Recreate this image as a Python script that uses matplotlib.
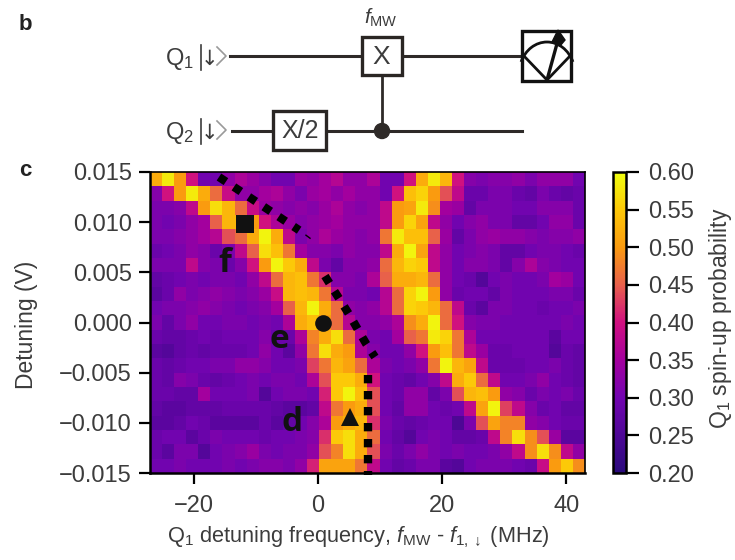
import numpy as np
import matplotlib
matplotlib.use("Agg")
import matplotlib.pyplot as plt
from matplotlib.colors import LinearSegmentedColormap
from matplotlib.patches import Rectangle, Circle, Arc, Polygon

plt.rcParams["font.family"] = ["Liberation Sans", "DejaVu Sans"]
plt.rcParams["mathtext.fontset"] = "custom"
plt.rcParams["mathtext.rm"] = "Liberation Sans"
plt.rcParams["mathtext.it"] = "Liberation Sans:italic"
plt.rcParams["mathtext.default"] = "regular"

# spin-up probability, top row first
probability = [
    [.52,.58,.50,.40,.30,.30, .33,.36,.34,.32,.30,.30, .34,.33,.35,.37,.33,.33, .36,.30,.30,.40,.52,.58, .53,.40,.32,.31,.32,.32, .33,.31,.33,.33,.33,.30],
    [.32,.40,.50,.58,.52,.46, .39,.33,.33,.35,.36,.33, .31,.34,.35,.33,.35,.33, .33,.30,.40,.54,.56,.50, .44,.38,.29,.29,.31,.31, .29,.28,.31,.29,.28,.29],
    [.31,.31,.32,.38,.50,.57, .53,.46,.39,.34,.33,.32, .33,.32,.34,.36,.33,.32, .33,.38,.50,.51,.58,.49, .35,.34,.28,.31,.31,.31, .30,.30,.32,.32,.32,.29],
    [.31,.30,.31,.33,.35,.45, .53,.53,.50,.40,.36,.34, .32,.33,.34,.35,.33,.33, .33,.38,.50,.56,.51,.38, .33,.30,.32,.33,.31,.31, .28,.28,.30,.33,.33,.29],
    [.31,.31,.32,.33,.35,.37, .44,.46,.52,.59,.52,.38, .31,.33,.36,.34,.33,.32, .33,.47,.58,.54,.54,.45, .34,.28,.31,.33,.34,.33, .33,.32,.31,.32,.32,.33],
    [.29,.30,.31,.33,.32,.29, .31,.38,.45,.57,.54,.47, .35,.32,.32,.31,.33,.32, .32,.38,.52,.59,.51,.38, .33,.30,.31,.32,.31,.28, .28,.30,.31,.31,.30,.29],
    [.31,.31,.31,.38,.32,.31, .29,.32,.40,.50,.59,.55, .52,.38,.31,.28,.32,.32, .33,.46,.53,.56,.55,.38, .33,.30,.32,.32,.31,.28, .32,.36,.32,.31,.30,.30],
    [.28,.29,.30,.31,.30,.31, .31,.30,.33,.38,.46,.53, .54,.47,.42,.32,.32,.31, .36,.45,.52,.52,.53,.46, .33,.30,.29,.26,.30,.31, .30,.30,.31,.35,.34,.30],
    [.27,.29,.33,.31,.32,.33, .32,.31,.32,.34,.39,.53, .54,.53,.47,.37,.31,.31, .30,.37,.46,.56,.59,.50, .33,.29,.30,.30,.28,.31, .30,.30,.30,.31,.31,.29],
    [.30,.31,.31,.32,.33,.32, .31,.30,.31,.32,.35,.45, .53,.59,.52,.46,.33,.32, .33,.37,.46,.56,.55,.53, .46,.38,.29,.27,.31,.31, .30,.30,.29,.30,.30,.31],
    [.31,.28,.31,.33,.30,.30, .31,.31,.30,.31,.30,.36, .52,.54,.50,.46,.37,.32, .32,.33,.36,.49,.52,.59, .46,.40,.32,.31,.31,.30, .30,.30,.30,.30,.31,.30],
    [.29,.28,.28,.29,.30,.29, .30,.30,.30,.32,.29,.29, .36,.48,.52,.57,.46,.36, .31,.30,.35,.45,.47,.58, .56,.47,.36,.30,.30,.30, .30,.30,.30,.27,.30,.30],
    [.27,.26,.28,.29,.28,.29, .29,.29,.30,.33,.30,.27, .33,.47,.57,.52,.50,.36, .32,.30,.30,.33,.40,.50, .54,.47,.38,.34,.29,.29, .30,.30,.30,.26,.29,.28],
    [.29,.28,.29,.30,.30,.31, .31,.33,.33,.32,.30,.30, .31,.43,.47,.53,.51,.46, .36,.31,.30,.31,.33,.47, .59,.53,.51,.38,.29,.29, .29,.30,.30,.31,.29,.28],
    [.29,.28,.32,.31,.29,.28, .29,.30,.31,.30,.31,.31, .30,.36,.44,.55,.55,.52, .40,.30,.29,.28,.30,.32, .38,.52,.55,.46,.38,.30, .30,.31,.33,.30,.29,.28],
    [.29,.29,.28,.28,.35,.30, .30,.30,.31,.26,.30,.31, .31,.30,.41,.55,.59,.54, .44,.30,.29,.33,.33,.28, .31,.44,.53,.54,.50,.33, .32,.29,.31,.30,.31,.29],
    [.28,.27,.27,.28,.28,.28, .29,.29,.29,.29,.28,.27, .27,.28,.38,.47,.50,.52, .44,.30,.28,.33,.33,.30, .29,.30,.38,.51,.59,.43, .38,.32,.29,.30,.28,.28],
    [.27,.27,.28,.30,.29,.27, .27,.27,.27,.29,.27,.28, .30,.32,.36,.50,.52,.53, .42,.31,.29,.28,.29,.30, .30,.25,.31,.44,.51,.48, .48,.33,.32,.30,.29,.29],
    [.29,.30,.30,.27,.29,.31, .30,.30,.30,.29,.30,.30, .31,.32,.42,.55,.57,.52, .46,.30,.28,.26,.30,.31, .30,.28,.28,.29,.38,.48, .57,.49,.44,.34,.27,.27],
    [.29,.27,.31,.31,.26,.30, .31,.32,.34,.31,.30,.31, .31,.33,.44,.48,.57,.52, .44,.31,.29,.31,.33,.31, .30,.31,.30,.30,.31,.33, .38,.49,.57,.49,.38,.33],
    [.30,.30,.31,.30,.30,.30, .31,.30,.31,.32,.32,.31, .33,.41,.51,.51,.51,.47, .38,.30,.28,.29,.31,.31, .27,.26,.30,.31,.31,.31, .30,.29,.39,.50,.55,.49],
]

x_extent = [-27, 43]
y_extent = [-0.015, 0.015]
x_ticks = [-20, 0, 20, 40]
x_tick_labels = ["\u221220", "0", "20", "40"]
y_ticks = [0.015, 0.010, 0.005, 0.0, -0.005, -0.010, -0.015]
y_tick_labels = ["0.015", "0.010", "0.005", "0.000", "\u22120.005", "\u22120.010", "\u22120.015"]
cbar_ticks = [0.20, 0.25, 0.30, 0.35, 0.40, 0.45, 0.50, 0.55, 0.60]

# guide lines drawn on top of the map
guide_1_x = [-15.9, -3.0]
guide_1_y = [0.0145, 0.0092]
guide_1b_x = [-1.9, -1.25]
guide_1b_y = [0.0087, 0.0084]
guide_2_x = [1.16, 2.45, 3.9, 5.2, 6.5, 7.8, 9.2]
guide_2_y = [0.00463, 0.00334, 0.00194, 0.00065, -0.00075, -0.00214, -0.00344]
guide_3_x = [8.08, 8.08]
guide_3_y = [-0.0052, -0.0152]

cmap = LinearSegmentedColormap.from_list("spin", [
    (0.0, "#2a0a7c"), (0.25, "#7204b0"), (0.375, "#a4009e"), (0.5, "#d01080"),
    (0.625, "#e8604c"), (0.75, "#fa9a10"), (0.875, "#fdc808"), (1.0, "#f0ff10"),
])

W, H = 735, 560
TEXT = "#3c3c3c"
fig = plt.figure(figsize=(W / 100, H / 100), dpi=100)


def box(x0, y0, x1, y1):
    return [x0 / W, 1 - y1 / H, (x1 - x0) / W, (y1 - y0) / H]


ax = fig.add_axes(box(150, 172, 585, 473))
im = ax.imshow(np.array(probability), extent=x_extent + y_extent, origin="upper",
               aspect="auto", cmap=cmap, vmin=0.2, vmax=0.6, interpolation="nearest")
ax.set_xticks(x_ticks, x_tick_labels)
ax.set_yticks(y_ticks, y_tick_labels)
ax.tick_params(length=8, width=1.6, labelsize=17, labelcolor=TEXT, pad=5)
ax.tick_params(axis="x", pad=8)
for s in ax.spines.values():
    s.set_linewidth(1.8)
ax.spines["top"].set_linewidth(1.2)
ax.spines["right"].set_linewidth(1.2)

ax.plot(guide_1_x, guide_1_y, color="black", lw=6, ls=(0, (1, 1.15)), dash_capstyle="butt", clip_on=False)
ax.plot(guide_1b_x, guide_1b_y, color="black", lw=1, clip_on=False)
ax.plot(guide_2_x, guide_2_y, color="black", lw=6, ls=(0, (1, 1.15)), dash_capstyle="butt", clip_on=False)
ax.plot(guide_3_x, guide_3_y, color="black", lw=6, ls=(0, (1, 0.92)), dash_capstyle="butt", clip_on=False)

ax.plot([-11.7], [0.0098], "s", color="#111111", ms=12.5, mew=0)
ax.plot([0.8], [0.0], "o", color="#111111", ms=12, mew=0)
ax.plot([5.2], [-0.0094], "^", color="#111111", ms=12.5, mew=0)
ax.set_xlim(x_extent)
ax.set_ylim(y_extent)

ax.text(-15.0, 0.0059, "f", fontsize=24, fontweight="bold", color="#111111", ha="center", va="center", family="Open Sans")
ax.text(-6.2, -0.0017, "e", fontsize=24, fontweight="bold", color="#111111", ha="center", va="center", family="Open Sans")
ax.text(-4.2, -0.0100, "d", fontsize=24, fontweight="bold", color="#111111", ha="center", va="center", family="Open Sans")

fig.text(358 / W, 1 - 537 / H, r"Q$_1$ detuning frequency, $\mathit{f}_{MW}$ - $\mathit{f}_{1,\downarrow}$ (MHz)",
         fontsize=15.7, color=TEXT, ha="center", va="center")
fig.text(26 / W, 1 - 325 / H, "Detuning (V)", fontsize=16.5, color=TEXT, rotation=90, ha="center", va="center")

cax = fig.add_axes(box(613, 172, 626, 473))
cb = fig.colorbar(im, cax=cax)
cb.set_ticks(cbar_ticks, labels=[f"{v:.2f}" for v in cbar_ticks])
cb.ax.tick_params(length=9, width=1.6, labelsize=17, labelcolor=TEXT, pad=7)
cb.outline.set_linewidth(1.8)
fig.text(720 / W, 1 - 318 / H, r"Q$_1$ spin-up probability", fontsize=16.5, color=TEXT, rotation=90, ha="center", va="center")

# circuit panel, drawn in pixel coordinates
ov = fig.add_axes([0, 0, 1, 1], facecolor="none")
ov.set_xlim(0, W)
ov.set_ylim(H, 0)
ov.axis("off")
wire = "#2e2a28"
ov.plot([230, 522], [56, 56], color=wire, lw=2.2)
ov.plot([232, 522], [131, 131], color=wire, lw=2.2)
ov.plot([382, 382], [76, 131], color=wire, lw=2.0)
ov.add_patch(Circle((382, 131), 7.5, color=wire, zorder=3))
ov.add_patch(Rectangle((362, 37), 40, 38, fc="white", ec="#2a2624", lw=2.4, zorder=3))
ov.add_patch(Rectangle((273, 111), 53, 39, fc="white", ec="#2a2624", lw=2.4, zorder=3))
ov.add_patch(Rectangle((522, 31), 49, 50, fc="white", ec="#111111", lw=2.4, zorder=3))
ov.add_patch(Arc((547, 74), 56, 64, theta1=205, theta2=335, color="#111111", lw=2, zorder=4))
ov.plot([523, 547, 570], [55, 80, 56], color="#111111", lw=2, zorder=4)
ov.plot([547, 558], [80, 40], color="#111111", lw=2.4, zorder=4)
ov.add_patch(Polygon([[552, 42], [558, 30], [565, 40], [560, 46]], color="#111111", zorder=4))
ov.text(381, 57, "X", fontsize=19, color=TEXT, ha="center", va="center", zorder=5)
ov.text(300, 131, "X/2", fontsize=18, color=TEXT, ha="center", va="center", zorder=5)
for label, y in [(r"Q$_1$", 59), (r"Q$_2$", 133)]:
    ov.text(165, y, label, fontsize=17, color=TEXT, ha="left", va="center")
    ov.plot([201, 201], [y - 14, y + 11], color=TEXT, lw=1.2)
    ov.text(209, y, "\u2193", fontsize=15, color=TEXT, ha="center", va="center", family="DejaVu Sans")
    ov.plot([217, 226, 217], [y - 12, y - 3, y + 6], color="#9a9a9a", lw=1.2)
ov.text(381, 18, r"$\mathit{f}_{MW}$", fontsize=15, color=TEXT, ha="center", va="center")
ov.text(25, 25, "b", fontsize=16, fontweight="bold", color="#222222", ha="center", va="center")
ov.text(25, 170, "c", fontsize=16, fontweight="bold", color="#222222", ha="center", va="center")

fig.savefig("out.png", dpi=100)
